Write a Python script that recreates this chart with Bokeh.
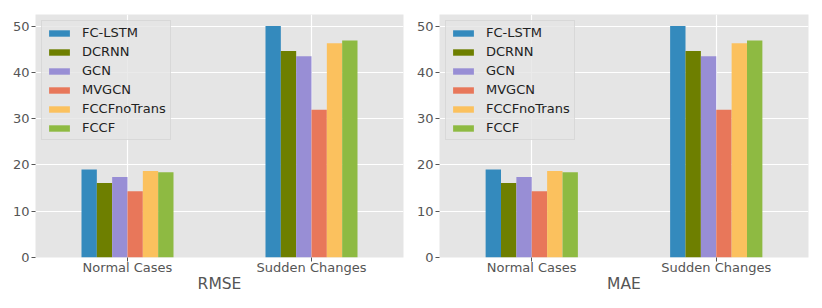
from bokeh.plotting import figure
from bokeh.layouts import row
from bokeh.models import ColumnDataSource, FactorRange, Legend, LegendItem
from bokeh.transform import dodge
from bokeh.embed import file_html
from bokeh.resources import INLINE

categories = ["Normal Cases", "Sudden Changes"]
models = ["FC-LSTM", "DCRNN", "GCN", "MVGCN", "FCCFnoTrans", "FCCF"]
colors = ["#348ABD", "#6E7F00", "#988ED5", "#E8775A", "#FBC15E", "#8EBA42"]

rmse_fc_lstm = [19.0, 50.0]
rmse_dcrnn = [16.1, 44.6]
rmse_gcn = [17.4, 43.5]
rmse_mvgcn = [14.3, 31.9]
rmse_fccfnotrans = [18.7, 46.3]
rmse_fccf = [18.4, 46.9]

mae_fc_lstm = [19.0, 50.0]
mae_dcrnn = [16.1, 44.6]
mae_gcn = [17.4, 43.5]
mae_mvgcn = [14.3, 31.9]
mae_fccfnotrans = [18.7, 46.3]
mae_fccf = [18.4, 46.9]

y_ticks = [0, 10, 20, 30, 40, 50]

FONT = "DejaVu Sans"


def make_panel(title, series, frame_w, border_l, border_r):
    data = {"cat": categories}
    for m, s in zip(models, series):
        data[m] = s
    src = ColumnDataSource(data)
    p = figure(x_range=FactorRange(*categories, range_padding=0), y_range=(0, 52.5),
               frame_width=frame_w, frame_height=243,
               output_backend="svg", toolbar_location=None, tools="",
               min_border_left=border_l, min_border_right=border_r,
               min_border_top=14, min_border_bottom=4)
    p.background_fill_color = "#E5E5E5"
    p.border_fill_color = "white"
    p.outline_line_color = None

    n = len(models)
    w = 0.5 / n
    items = []
    for j, (m, c) in enumerate(zip(models, colors)):
        off = -0.25 + w * (j + 0.5)
        r = p.vbar(x=dodge("cat", off, range=p.x_range), top=m, width=w,
                   source=src, fill_color=c, line_color=None)
        items.append(LegendItem(label=m, renderers=[r]))

    leg = Legend(items=items, location="top_left")
    leg.margin = 6
    leg.padding = 4
    leg.spacing = 4
    leg.glyph_width = 26
    leg.glyph_height = 8
    leg.label_height = 15
    leg.label_standoff = 10
    leg.label_text_font = FONT
    leg.label_text_font_size = "13px"
    leg.label_text_color = "#222222"
    leg.background_fill_color = "#E5E5E5"
    leg.background_fill_alpha = 0.8
    leg.border_line_color = "#CCCCCC"
    leg.border_line_width = 1
    p.add_layout(leg)

    p.yaxis.ticker = y_ticks
    for ax in (p.xaxis[0], p.yaxis[0]):
        ax.axis_line_color = None
        ax.major_tick_line_color = "#555555"
        ax.major_tick_out = 4
        ax.major_tick_in = 0
        ax.minor_tick_line_color = None
        ax.major_label_text_font = FONT
        ax.major_label_text_font_size = "13px"
        ax.major_label_text_color = "#555555"
        ax.major_label_standoff = 2
    p.xaxis.major_label_standoff = -2
    p.xaxis.axis_label = title
    p.xaxis.axis_label_text_font = FONT
    p.xaxis.axis_label_text_font_size = "15.5px"
    p.xaxis.axis_label_text_font_style = "normal"
    p.xaxis.axis_label_text_color = "#555555"
    p.xaxis.axis_label_standoff = -3

    p.xgrid.grid_line_color = "white"
    p.ygrid.grid_line_color = "white"
    p.xgrid.grid_line_width = 1.2
    p.ygrid.grid_line_width = 1.2
    return p


p1 = make_panel("RMSE", [rmse_fc_lstm, rmse_dcrnn, rmse_gcn, rmse_mvgcn, rmse_fccfnotrans, rmse_fccf],
                368, 35, 8)
p2 = make_panel("MAE", [mae_fc_lstm, mae_dcrnn, mae_gcn, mae_mvgcn, mae_fccfnotrans, mae_fccf],
                369, 28, 14)

layout = row(p1, p2)
open("out.html", "w").write(file_html(layout, INLINE))
